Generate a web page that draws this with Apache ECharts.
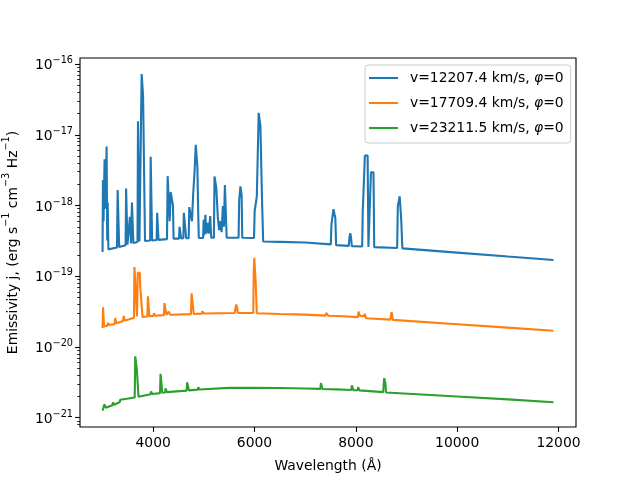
<!DOCTYPE html>
<html>
<head>
<meta charset="utf-8">
<script src="https://cdn.jsdelivr.net/npm/echarts@6/dist/echarts.min.js"></script>
<style>
html, body { margin: 0; padding: 0; background: #fff; }
#chart { width: 640px; height: 480px; }
</style>
</head>
<body>
<div id="chart"></div>
<script>
// wavelength in Angstrom, emissivity in erg s^-1 cm^-3 Hz^-1
var blueWave = [3000, 3008, 3020, 3040, 3058, 3080, 3092, 3102, 3115,
    3285, 3298, 3315, 3328, 3455, 3465, 3480, 3492,
    3530, 3540, 3552, 3562, 3570, 3580, 3595, 3608,
    3690, 3700, 3715, 3728, 3762, 3772, 3792, 3800, 3825, 3838,
    3940, 3950, 3965, 3978, 4068, 4078, 4092, 4105,
    4272, 4285, 4310, 4325, 4345, 4375, 4390, 4402,
    4510, 4520, 4540, 4552, 4595, 4605, 4635, 4650,
    4700, 4712, 4745, 4765, 4790, 4815, 4840, 4858, 4872, 4885, 4900,
    4985, 4995, 5008, 5030, 5045, 5075, 5095, 5125, 5145,
    5198, 5210, 5232, 5245, 5262, 5275, 5300, 5325, 5350, 5375, 5395, 5415, 5435, 5450,
    5685, 5697, 5722, 5745, 5758,
    5990, 6002, 6030, 6045, 6070, 6082, 6102, 6116, 6135, 6148, 6170,
    6500, 7000, 7505, 7518, 7545, 7558, 7580, 7595, 7610,
    7860, 7872, 7890, 7905, 7920,
    8125, 8135, 8165, 8178, 8232, 8248, 8285, 8298, 8348, 8362,
    8815, 8828, 8850, 8865, 8880, 8895, 8905, 8918,
    10000, 11000, 11900];
var blueFlux = [2.2e-19, 2.3e-18, 6e-19, 4.5e-18, 9e-19, 6.8e-18, 3.2e-19, 1.1e-18, 2.4e-19,
    2.55e-19, 1.65e-18, 1.65e-18, 2.6e-19, 2.75e-19, 1.74e-18, 1.74e-18, 2.8e-19,
    2.85e-19, 6.9e-19, 6.9e-19, 2.9e-19, 2.9e-19, 1.1e-18, 1.1e-18, 2.95e-19,
    3.05e-19, 1.55e-17, 1.55e-17, 3.1e-19, 3.1e-19, 7.2e-17, 7.2e-17, 3.6e-17, 3.6e-17, 3.15e-19,
    3.2e-19, 4.9e-18, 4.9e-18, 3.2e-19, 3.25e-19, 7.9e-19, 7.9e-19, 3.27e-19,
    3.35e-19, 2.6e-18, 2.6e-18, 6e-19, 1.55e-18, 1.55e-18, 1.0e-18, 3.4e-19,
    3.4e-19, 5e-19, 5e-19, 3.42e-19, 3.45e-19, 7.9e-19, 7.9e-19, 3.45e-19,
    3.45e-19, 9.5e-19, 9e-19, 6e-19, 1.5e-18, 2.9e-18, 7.2e-18, 7.2e-18, 3.5e-18, 1.0e-18, 3.47e-19,
    3.48e-19, 6.3e-19, 3.8e-19, 7.4e-19, 4e-19, 5.7e-19, 4e-19, 7.1e-19, 3.5e-19,
    3.5e-19, 2.57e-18, 2.57e-18, 1.78e-18, 1.78e-18, 6.9e-19, 4.5e-19, 6e-19, 4.2e-19, 9.8e-19, 5e-19, 1.95e-18, 1.95e-18, 3.5e-19,
    3.5e-19, 1.2e-18, 1.86e-18, 1.4e-18, 3.5e-19,
    3.47e-19, 8.3e-19, 8.3e-19, 1.35e-18, 1.35e-18, 2.04e-17, 2.04e-17, 1.32e-17, 1.32e-17, 1.2e-18, 3.1e-19,
    3.06e-19, 3.0e-19, 2.82e-19, 5.4e-19, 5.4e-19, 8.9e-19, 8.9e-19, 6.6e-19, 2.75e-19,
    2.69e-19, 3.5e-19, 4.07e-19, 3.5e-19, 2.67e-19,
    2.63e-19, 7.9e-19, 7.9e-19, 5.1e-18, 5.1e-18, 2.6e-19, 2.6e-19, 2.95e-18, 2.95e-18, 2.58e-19,
    2.51e-19, 9.8e-19, 9.8e-19, 1.35e-18, 1.35e-18, 6.3e-19, 6.3e-19, 2.48e-19,
    2.16e-19, 1.9e-19, 1.7e-19];

var orangeWave = [3000, 3004, 3010, 3022, 3030, 3095, 3105, 3120, 3130,
    3240, 3250, 3265, 3275, 3405, 3415, 3430, 3440, 3515, 3525, 3540,
    3620, 3630, 3665, 3680, 3695, 3735, 3745, 3775, 3790,
    3885, 3895, 3912, 3925, 4005, 4015, 4030, 4040,
    4210, 4222, 4250, 4262, 4295, 4305, 4325, 4335,
    4745, 4758, 4790, 4800, 4960, 4970, 4990, 5000,
    5610, 5625, 5640, 5655, 5670,
    5975, 5985, 5995, 6010, 6022, 6035, 6045,
    6500, 7000, 7400, 7415, 7445, 7460, 7750, 7762, 7775,
    8040, 8052, 8068, 8080, 8165, 8175, 8190, 8200,
    8680, 8692, 8705, 8718, 8730,
    10000, 11000, 11900];
var orangeFlux = [1.86e-20, 2.3e-20, 3.63e-20, 3.63e-20, 1.95e-20, 2.0e-20, 2.19e-20, 2.19e-20, 2.05e-20,
    2.12e-20, 2.57e-20, 2.57e-20, 2.16e-20, 2.33e-20, 2.75e-20, 2.75e-20, 2.36e-20, 2.45e-20, 2.6e-20, 2.47e-20,
    2.6e-20, 1.35e-19, 1.35e-19, 2.7e-20, 1.12e-19, 1.12e-19, 6.9e-20, 6.9e-20, 2.65e-20,
    2.7e-20, 5.2e-20, 5.2e-20, 2.72e-20, 2.75e-20, 3.0e-20, 3.0e-20, 2.77e-20,
    2.82e-20, 4.17e-20, 4.17e-20, 2.85e-20, 2.85e-20, 3.16e-20, 3.16e-20, 2.86e-20,
    2.92e-20, 5.75e-20, 5.75e-20, 2.93e-20, 2.96e-20, 3.2e-20, 3.2e-20, 2.97e-20,
    3.02e-20, 3.6e-20, 3.98e-20, 3.6e-20, 3.02e-20,
    3.02e-20, 1.24e-19, 1.82e-19, 1.82e-19, 8.5e-20, 8.5e-20, 3.0e-20,
    2.93e-20, 2.87e-20, 2.78e-20, 3.02e-20, 3.02e-20, 2.76e-20, 2.72e-20, 2.85e-20, 2.71e-20,
    2.64e-20, 3.16e-20, 3.16e-20, 2.75e-20, 2.72e-20, 2.95e-20, 2.95e-20, 2.55e-20,
    2.44e-20, 2.8e-20, 3.09e-20, 2.8e-20, 2.42e-20,
    2.1e-20, 1.88e-20, 1.7e-20];

var greenWave = [3000, 3030, 3038, 3055, 3065, 3195, 3205, 3220, 3230,
    3340, 3348, 3362, 3372, 3635, 3645, 3670, 3678, 3700, 3710,
    3950, 3958, 3972, 3980, 4135, 4145, 4170, 4180, 4235, 4245, 4258, 4268,
    4660, 4670, 4695, 4705, 4880, 4890, 4902, 4912,
    5500, 6000, 6500, 7000, 7300, 7310, 7330, 7340, 7620, 7632, 7645,
    7910, 7920, 7940, 7950, 8035, 8045, 8060, 8070,
    8540, 8550, 8560, 8575, 8585, 8595,
    10000, 11000, 11900];
var greenFlux = [1.26e-21, 1.33e-21, 1.55e-21, 1.55e-21, 1.38e-21, 1.5e-21, 1.65e-21, 1.65e-21, 1.53e-21,
    1.67e-21, 1.8e-21, 1.8e-21, 1.7e-21, 1.93e-21, 7.4e-21, 7.4e-21, 4.7e-21, 4.7e-21, 1.98e-21,
    2.15e-21, 2.35e-21, 2.35e-21, 2.17e-21, 2.23e-21, 4.17e-21, 4.17e-21, 2.26e-21, 2.28e-21, 2.6e-21, 2.6e-21, 2.3e-21,
    2.42e-21, 3.16e-21, 3.16e-21, 2.44e-21, 2.5e-21, 2.7e-21, 2.7e-21, 2.51e-21,
    2.64e-21, 2.66e-21, 2.63e-21, 2.59e-21, 2.56e-21, 3.09e-21, 3.09e-21, 2.55e-21, 2.52e-21, 2.62e-21, 2.51e-21,
    2.47e-21, 2.88e-21, 2.88e-21, 2.46e-21, 2.45e-21, 2.7e-21, 2.7e-21, 2.44e-21,
    2.3e-21, 3.0e-21, 3.63e-21, 3.63e-21, 3.0e-21, 2.28e-21,
    2.0e-21, 1.82e-21, 1.66e-21];

var seriesNames = ['v=12207.4 km/s, φ=0', 'v=17709.4 km/s, φ=0', 'v=23211.5 km/s, φ=0'];
var colors = ['#1f77b4', '#ff7f0e', '#2ca02c'];
var xTicks = [4000, 6000, 8000, 10000, 12000];
var yDecades = [-21, -20, -19, -18, -17, -16];

var X_MIN = 2555, X_MAX = 12345;
var Y_MIN = 7.4e-22, Y_MAX = 1.216e-16;
var FONT = 'DejaVu Sans';

function pairs(w, f) {
    var out = [];
    for (var i = 0; i < w.length; i++) {
        out.push([w[i], f[i]]);
    }
    return out;
}

// minor tick spots (2..9 x 10^n), in log10 units
var yMinor = [];
for (var n = -22; n <= -16; n++) {
    for (var k = 2; k <= 9; k++) {
        var v = n + Math.log10(k);
        if (v > Math.log10(Y_MIN) && v < Math.log10(Y_MAX)) yMinor.push(v);
    }
}

function makeSeries(name, color, w, f) {
    return {
        name: name,
        type: 'line',
        yAxisIndex: 0,
        symbol: 'none',
        data: pairs(w, f),
        lineStyle: { color: color, width: 2.1 },
        itemStyle: { color: color },
        z: 3
    };
}

// matplotlib sizes are in points: 1pt = 100/72 px
var tickLine = { color: '#000', width: 1.1 };

var option = {
    animation: false,
    backgroundColor: '#fff',
    textStyle: { fontFamily: FONT },
    grid: {
        left: 80, right: 64, top: 58, bottom: 53,
        outerBoundsMode: 'none',
        containLabel: false,
        show: true, borderColor: '#000', borderWidth: 1.1,
        backgroundColor: 'transparent'
    },
    legend: {
        orient: 'vertical',
        left: 365, top: 65,
        padding: [5, 7, 7, 4],
        itemGap: 9,
        itemWidth: 29,
        itemHeight: 2.1,
        icon: 'rect',
        backgroundColor: 'rgba(255,255,255,0.8)',
        borderColor: '#cccccc',
        borderWidth: 1,
        borderRadius: 3,
        data: seriesNames,
        formatter: function (name) {
            return name.replace('φ', '{i|φ}');
        },
        textStyle: {
            fontFamily: FONT, fontSize: 13.9, color: '#000',
            padding: [0, 0, 0, 7], lineHeight: 16,
            rich: {
                i: { fontFamily: FONT, fontSize: 13.9, fontStyle: 'italic', color: '#000', lineHeight: 16 }
            }
        }
    },
    xAxis: {
        type: 'value',
        min: X_MIN, max: X_MAX,
        name: 'Wavelength (Å)',
        nameLocation: 'middle',
        nameGap: 32,
        nameTextStyle: { fontFamily: FONT, fontSize: 13.9, color: '#000' },
        axisLine: { show: false },
        splitLine: { show: false },
        axisTick: { customValues: xTicks, length: 4.9, lineStyle: tickLine },
        axisLabel: {
            customValues: xTicks,
            margin: 9,
            fontFamily: FONT, fontSize: 13.9, color: '#000',
            formatter: function (v) { return String(v); }
        }
    },
    yAxis: [
        {
            // the log scale the spectra are drawn on
            type: 'log',
            logBase: 10,
            min: Y_MIN, max: Y_MAX,
            position: 'left',
            axisLine: { show: false },
            axisTick: { show: false },
            axisLabel: { show: false },
            splitLine: { show: false },
            name: '{n|Emissivity j, (erg s}{e|−1}{n| cm}{e|−3}{n| Hz}{e|−1}{n|)}',
            nameLocation: 'middle',
            nameGap: 60,
            nameTextStyle: {
                color: '#000',
                rich: {
                    n: { fontFamily: FONT, fontSize: 13.9, color: '#000', lineHeight: 19, verticalAlign: 'bottom' },
                    e: { fontFamily: FONT, fontSize: 9.7, color: '#000', lineHeight: 19, verticalAlign: 'top' }
                }
            }
        },
        {
            // decade ticks and labels, same span in log10 units
            type: 'value',
            min: Math.log10(Y_MIN), max: Math.log10(Y_MAX),
            position: 'left',
            axisLine: { show: false },
            splitLine: { show: false },
            axisTick: { customValues: yDecades, length: 4.9, lineStyle: tickLine },
            axisLabel: {
                customValues: yDecades,
                margin: 7,
                formatter: function (v) {
                    return '{b|10}{e|−' + Math.abs(Math.round(v)) + '}';
                },
                rich: {
                    b: { fontFamily: FONT, fontSize: 13.9, color: '#000', lineHeight: 17, verticalAlign: 'bottom' },
                    e: { fontFamily: FONT, fontSize: 9.7, color: '#000', lineHeight: 17, verticalAlign: 'top' }
                }
            }
        },
        {
            // minor log ticks
            type: 'value',
            min: Math.log10(Y_MIN), max: Math.log10(Y_MAX),
            position: 'left',
            axisLine: { show: false },
            splitLine: { show: false },
            axisLabel: { show: false },
            axisTick: { customValues: yMinor, length: 2.8, lineStyle: { color: '#000', width: 0.83 } }
        }
    ],
    series: [
        makeSeries(seriesNames[0], colors[0], blueWave, blueFlux),
        makeSeries(seriesNames[1], colors[1], orangeWave, orangeFlux),
        makeSeries(seriesNames[2], colors[2], greenWave, greenFlux)
    ]
};

var myChart = echarts.init(document.getElementById('chart'), null, { renderer: 'canvas' });
myChart.setOption(option);
</script>
</body>
</html>
